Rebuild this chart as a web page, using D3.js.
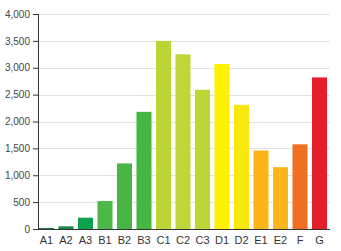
<!DOCTYPE html>
<html>
<head>
<meta charset="utf-8">
<script src="https://cdn.jsdelivr.net/npm/d3@7"></script>
<style>
  body { margin: 0; background: #fff; }
</style>
</head>
<body>
<div id="chart"></div>
<script>
const categories = ['A1', 'A2', 'A3', 'B1', 'B2', 'B3', 'C1', 'C2', 'C3', 'D1', 'D2', 'E1', 'E2', 'F', 'G'];
const values = [20, 50, 210, 520, 1220, 2180, 3500, 3250, 2590, 3070, 2310, 1460, 1150, 1575, 2820];
const colors = ['#1b7d43', '#1b8646', '#0ba24b', '#4cb848', '#4ab547', '#44b843', '#bcd535', '#bed637', '#bdd535',
  '#fff200', '#f8e80e', '#fbb516', '#fbb61c', '#f07022', '#e41e2b'];
const yTicks = [0, 500, 1000, 1500, 2000, 2500, 3000, 3500, 4000];

const width = 341;
const height = 251;
const margin = { top: 14, right: 13, bottom: 22, left: 38 };

const svg = d3.select('#chart').append('svg').attr('width', width).attr('height', height);

const x = d3
  .scaleBand()
  .domain(categories)
  .range([margin.left, width - margin.right])
  .paddingInner(0.23)
  .paddingOuter(0.05);

const y = d3
  .scaleLinear()
  .domain([0, 4000])
  .range([height - margin.bottom, margin.top]);

// gridlines
svg
  .append('g')
  .selectAll('line')
  .data(yTicks.slice(1))
  .join('line')
  .attr('x1', margin.left)
  .attr('x2', width - 11)
  .attr('y1', (d) => Math.round(y(d)) + 0.5)
  .attr('y2', (d) => Math.round(y(d)) + 0.5)
  .attr('stroke', '#e3e3e3');

svg
  .append('g')
  .selectAll('rect')
  .data(values)
  .join('rect')
  .attr('x', (d, i) => x(categories[i]))
  .attr('width', x.bandwidth())
  .attr('y', (d) => y(d))
  .attr('height', (d) => y(0) - y(d))
  .attr('fill', (d, i) => colors[i]);

const yAxis = svg
  .append('g')
  .attr('transform', `translate(${margin.left},0)`)
  .call(d3.axisLeft(y).tickValues(yTicks).tickSize(5).tickPadding(3).tickFormat(d3.format(',')));

yAxis.select('.domain').attr('stroke', '#333').attr('d', `M0.5,${y(4000)}V${y(0)}`);
yAxis.selectAll('.tick line').attr('stroke', '#333');
yAxis.selectAll('text').attr('font-family', 'Liberation Sans, Arial, sans-serif').attr('font-size', 10).attr('fill', '#444');

const xAxis = svg
  .append('g')
  .attr('transform', `translate(0,${y(0)})`)
  .call(d3.axisBottom(x).tickSize(0).tickPadding(7));

xAxis.select('.domain').attr('stroke', '#333').attr('d', `M${margin.left},0.5H${width - 11}`);
xAxis.selectAll('text').attr('font-family', 'Liberation Sans, Arial, sans-serif').attr('font-size', 11).attr('fill', '#333');
</script>
</body>
</html>
